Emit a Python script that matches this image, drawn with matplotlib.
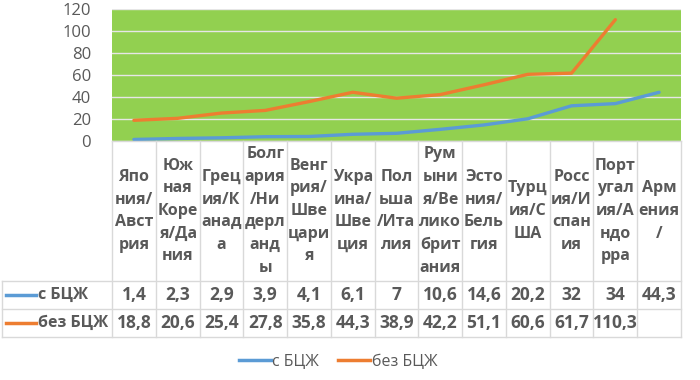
import matplotlib.pyplot as plt
from matplotlib.lines import Line2D
from matplotlib.transforms import blended_transform_factory

plt.rcParams['font.family'] = ['Open Sans', 'DejaVu Sans']

# Data
countries = [
    "Япо\nния/\nАвст\nрия", "Юж\nная\nКоре\nя/Да\nния", "Грец\nия/К\nанад\nа",
    "Болг\nария\n/Ни\nдерл\nанд\nы", "Венг\nрия/\nШве\nцари\nя", "Укра\nина/\nШве\nция",
    "Пол\nьша\n/Ита\nлия", "Рум\nыни\nя/Ве\nлико\nбрит\nания", "Эсто\nния/\nБель\nгия",
    "Турц\nия/С\nША", "Росс\nия/И\nспан\nия", "Порт\nугал\nия/А\nндо\nрра", "Арм\nения\n/",
]
with_bcg = [1.4, 2.3, 2.9, 3.9, 4.1, 6.1, 7, 10.6, 14.6, 20.2, 32, 34, 44.3]
without_bcg = [18.8, 20.6, 25.4, 27.8, 35.8, 44.3, 38.9, 42.2, 51.1, 60.6, 61.7, 110.3, None]
series_names = ["с БЦЖ", "без БЦЖ"]
yticks = [0, 20, 40, 60, 80, 100, 120]

BLUE = "#5B9BD5"
ORANGE = "#ED7D31"
TEXT = "#595959"
BORDER = "#D9D9D9"
W, H = 700, 380
FS = 11.5


def fx(px):
    return px / W


def fy(py):
    return 1 - py / H


def fmt(v):
    return "" if v is None else f"{v:g}".replace(".", ",")


fig = plt.figure(figsize=(7, 3.8), dpi=100)
ax = fig.add_axes([fx(112), fy(141), fx(681) - fx(112), fy(9) - fy(141)])
ax.set_facecolor("#92D050")

x = list(range(len(countries)))
xo = [i for i, v in zip(x, without_bcg) if v is not None]
yo = [v for v in without_bcg if v is not None]
ax.plot(x, with_bcg, color=BLUE, lw=2.4, solid_capstyle="round", zorder=3)
ax.plot(xo, yo, color=ORANGE, lw=2.4, solid_capstyle="round", zorder=3)

ax.set_xlim(-0.5, len(countries) - 0.5)
ax.set_ylim(0, 120)
ax.set_yticks(yticks)
ax.set_xticks([])
ax.grid(axis="y", color="#E6E6E6", lw=1)
ax.set_axisbelow(True)
for s in ax.spines.values():
    s.set_visible(False)
ax.tick_params(axis="y", length=0, pad=15, labelsize=12, labelcolor=TEXT)

# Data table below the plot
tr = blended_transform_factory(ax.transData, fig.transFigure)
row_edges = [fy(141), fy(281), fy(309), fy(337)]
n = len(countries)
for i in range(n + 1):
    fig.add_artist(Line2D([i - 0.5, i - 0.5], [row_edges[0], row_edges[3]],
                          transform=tr, color=BORDER, lw=1))
fig.add_artist(Line2D([-0.5, n - 0.5], [row_edges[0]] * 2, transform=tr, color=BORDER, lw=1))
for ye in row_edges[1:]:
    fig.add_artist(Line2D([fx(2), fx(681)], [ye, ye], transform=fig.transFigure, color=BORDER, lw=1))
fig.add_artist(Line2D([fx(2), fx(2)], [row_edges[1], row_edges[3]],
                      transform=fig.transFigure, color=BORDER, lw=1))

hy = (row_edges[0] + row_edges[1]) / 2
for i, name in enumerate(countries):
    fig.text(i, hy, name, transform=tr, ha="center", va="center", fontsize=FS,
             fontweight="bold", color=TEXT, linespacing=1.55)

for r, (vals, name, col) in enumerate(zip([with_bcg, without_bcg], series_names, [BLUE, ORANGE])):
    cy = (row_edges[r + 1] + row_edges[r + 2]) / 2
    fig.add_artist(Line2D([fx(6), fx(36)], [cy, cy], transform=fig.transFigure, color=col, lw=2.5))
    fig.text(fx(38), cy, name, ha="left", va="center", fontsize=11.5,
             fontweight="bold", color=TEXT)
    for i, v in enumerate(vals):
        fig.text(i, cy, fmt(v), transform=tr, ha="center", va="center", fontsize=12.5,
                 fontweight="bold", color=TEXT)

handles = [Line2D([], [], color=BLUE, lw=2.5), Line2D([], [], color=ORANGE, lw=2.5)]
leg = fig.legend(handles, series_names, loc="center", bbox_to_anchor=(fx(338), fy(362)),
                 ncol=2, frameon=False, fontsize=11.5, handlelength=2.0, handletextpad=0.1,
                 columnspacing=1.2)
for t in leg.get_texts():
    t.set_color(TEXT)

fig.savefig("out.png", dpi=100, facecolor="white")
